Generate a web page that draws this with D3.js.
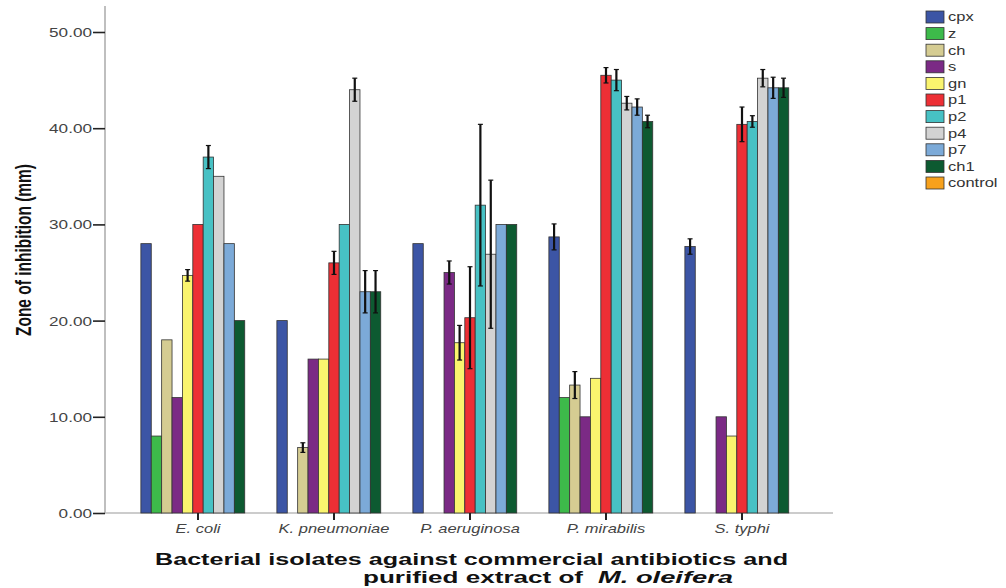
<!DOCTYPE html>
<html><head><meta charset="utf-8">
<script src="https://cdn.jsdelivr.net/npm/d3@7/dist/d3.min.js"></script>
<style>body{margin:0;background:#fff}svg{display:block}text{font-family:"Liberation Sans",Arial,sans-serif}</style>
</head><body><svg id="c" width="1006" height="588"></svg>
<script>
const categories = ["E. coli","K. pneumoniae","P. aeruginosa","P. mirabilis","S. typhi"];
const seriesNames = ["cpx","z","ch","s","gn","p1","p2","p4","p7","ch1","control"];
const seriesColors = ["#3c55a5","#3dba4a","#d5cc92","#7b2a85","#faf46e","#ed2f35","#47c1c4","#d3d3d3","#7caad8","#0d5a31","#f7a11c"];
const cpx = [28, 20, 28, 28.7, 27.7];
const z = [8, null, null, 12, null];
const ch = [18, 6.8, null, 13.3, null];
const s = [12, 16, 25, 10, 10];
const gn = [24.7, 16, 17.7, 14, 8];
const p1 = [30, 26, 20.3, 45.5, 40.4];
const p2 = [37, 30, 32, 45, 40.7];
const p4 = [35, 44, 26.9, 42.6, 45.2];
const p7 = [28, 23, 30, 42.2, 44.2];
const ch1 = [20, 23, 30, 40.7, 44.2];
const control = [null, null, null, null, null];
const cpxErr = [0, 0, 0, 1.35, 0.8];
const zErr = [0, 0, 0, 0, 0];
const chErr = [0, 0.5, 0, 1.4, 0];
const sErr = [0, 0, 1.2, 0, 0];
const gnErr = [0.6, 0, 1.8, 0, 0];
const p1Err = [0, 1.2, 5.3, 0.8, 1.8];
const p2Err = [1.2, 0, 8.4, 1.1, 0.6];
const p4Err = [0, 1.2, 7.7, 0.7, 0.9];
const p7Err = [0, 2.2, 0, 0.85, 1.1];
const ch1Err = [0, 2.2, 0, 0.65, 1.0];
const controlErr = [0, 0, 0, 0, 0];
const yTicks = [0, 10, 20, 30, 40, 50];

const values = [cpx, z, ch, s, gn, p1, p2, p4, p7, ch1, control];
const errors = [cpxErr, zErr, chErr, sErr, gnErr, p1Err, p2Err, p4Err, p7Err, ch1Err, controlErr];

const svg = d3.select("#c");
const SX = 1.32;
const x0 = d3.scaleBand().domain(categories).range([130, 810]).paddingInner(0.16).paddingOuter(0.08);
const xs = d3.scaleBand().domain(seriesNames).range([0, x0.bandwidth()]);
const y = d3.scaleLinear().domain([0, 50]).range([513, 32]);
const color = d3.scaleOrdinal().domain(seriesNames).range(seriesColors);

// axis lines
svg.append("line").attr("x1",105).attr("x2",105).attr("y1",6).attr("y2",y(0)).attr("stroke","#aaa").attr("stroke-width",1.5);
svg.append("line").attr("x1",105).attr("x2",833).attr("y1",y(0)).attr("y2",y(0)).attr("stroke","#bbb").attr("stroke-width",1.5);

// y axis
const yAx = svg.append("g").attr("transform","translate(105,0)")
  .call(d3.axisLeft(y).tickValues(yTicks).tickFormat(d3.format(".2f")).tickSize(12).tickPadding(1));
yAx.select(".domain").remove();
yAx.selectAll(".tick line").attr("stroke","#222").attr("stroke-width",1.6);
yAx.selectAll(".tick text").attr("x",0).attr("dy","0.35em")
  .attr("transform","translate(-13,0) scale(" + SX + ",1)")
  .attr("font-size",13).attr("fill","#444").style("font-family","Liberation Sans, Arial, sans-serif");

// bars
const data = [];
categories.forEach((c, i) => seriesNames.forEach((sn, j) => {
  if (values[j][i] != null) data.push({cat: c, ser: sn, v: values[j][i], e: errors[j][i]});
}));
svg.append("g").selectAll("rect").data(data).join("rect")
  .attr("x", d => x0(d.cat) + xs(d.ser))
  .attr("y", d => y(d.v))
  .attr("width", xs.bandwidth())
  .attr("height", d => y(0) - y(d.v))
  .attr("fill", d => color(d.ser))
  .attr("stroke", "#333").attr("stroke-width", 0.8);

// error bars
const eb = svg.append("g").selectAll("g").data(data.filter(d => d.e > 0)).join("g");
eb.append("line")
  .attr("x1", d => x0(d.cat) + xs(d.ser) + xs.bandwidth()/2)
  .attr("x2", d => x0(d.cat) + xs(d.ser) + xs.bandwidth()/2)
  .attr("y1", d => y(d.v + d.e)).attr("y2", d => y(d.v - d.e))
  .attr("stroke", "#111").attr("stroke-width", 2.2);
eb.selectAll(".cap").data(d => [d.v + d.e, d.v - d.e].map(v => ({d, v}))).join("line")
  .attr("x1", o => x0(o.d.cat) + xs(o.d.ser) + xs.bandwidth()/2 - 2.5)
  .attr("x2", o => x0(o.d.cat) + xs(o.d.ser) + xs.bandwidth()/2 + 2.5)
  .attr("y1", o => y(o.v)).attr("y2", o => y(o.v))
  .attr("stroke", "#111").attr("stroke-width", 1.2);

// x axis
const xAx = svg.append("g").attr("transform","translate(0," + y(0) + ")")
  .call(d3.axisBottom(x0).tickSize(7).tickPadding(4));
xAx.select(".domain").remove();
xAx.selectAll(".tick line").attr("stroke","#222").attr("stroke-width",2);
xAx.selectAll(".tick text").attr("y",0).attr("dy","0.35em")
  .attr("transform","translate(0,16) scale(" + SX + ",1)")
  .attr("font-size",12.5).attr("font-style","italic").attr("fill","#444")
  .style("font-family","Liberation Sans, Arial, sans-serif");

// y title
svg.append("text")
  .attr("transform","translate(31,250) scale(1.4,1) rotate(-90)")
  .attr("text-anchor","middle").attr("font-size",15.5).attr("font-weight","bold").attr("fill","#111")
  .text("Zone of inhibition (mm)");

// x title
svg.append("text").attr("x",155).attr("y",565).attr("textLength",633).attr("lengthAdjust","spacingAndGlyphs")
  .attr("font-size",16.5).attr("font-weight","bold").attr("fill","#111")
  .text("Bacterial isolates against commercial antibiotics and");
svg.append("text").attr("x",363).attr("y",583).attr("textLength",220).attr("lengthAdjust","spacingAndGlyphs")
  .attr("font-size",16.5).attr("font-weight","bold").attr("fill","#111")
  .text("purified extract of");
svg.append("text").attr("x",598).attr("y",583).attr("textLength",135).attr("lengthAdjust","spacingAndGlyphs")
  .attr("font-size",16.5).attr("font-weight","bold").attr("font-style","italic").attr("fill","#111")
  .text("M. oleifera");

// legend
const lg = svg.append("g").selectAll("g").data(seriesNames).join("g")
  .attr("transform", (d, i) => "translate(926," + (11 + i * 16.6) + ")");
lg.append("rect").attr("width",18).attr("height",12).attr("fill", d => color(d)).attr("stroke","#333").attr("stroke-width",0.8);
lg.append("text").attr("x",0).attr("y",6).attr("dy","0.35em")
  .attr("transform","translate(22,0) scale(" + SX + ",1)")
  .attr("font-size",12.5).attr("fill","#333").text(d => d);
</script></body></html>
